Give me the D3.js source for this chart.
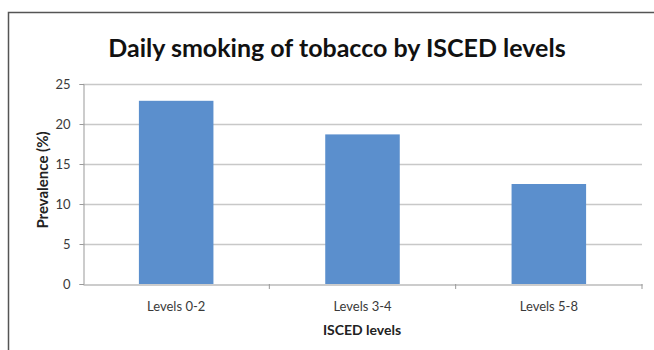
<!DOCTYPE html>
<html>
<head>
<meta charset="utf-8">
<script src="https://cdn.jsdelivr.net/npm/d3@7"></script>
<style>
  body { margin: 0; background: #fff; }
  text { font-family: Lato, "Open Sans", sans-serif; }
</style>
</head>
<body>
<div id="chart"></div>
<script>
// Data
const categories = ["Levels 0-2", "Levels 3-4", "Levels 5-8"];
const prevalence = [22.9, 18.7, 12.5];
const yTicks = [0, 5, 10, 15, 20, 25];

const W = 654, H = 350;
const plot = { left: 83, right: 642, top: 84, bottom: 284 };

const svg = d3.select("#chart")
    .append("svg")
    .attr("width", W)
    .attr("height", H);

svg.append("rect")
    .attr("width", W).attr("height", H)
    .attr("fill", "#fff");

// Outer frame
svg.append("rect")
    .attr("x", 8.5).attr("y", 12.5)
    .attr("width", W + 10).attr("height", H)
    .attr("fill", "none")
    .attr("stroke", "#555")
    .attr("stroke-width", 1.5);

// bars sit in the middle 40% of each category
const x = d3.scaleBand()
    .domain(categories)
    .range([plot.left, plot.right])
    .paddingInner(0.6)
    .paddingOuter(0.3);

const xBound = d3.scaleBand()
    .domain(categories)
    .range([plot.left, plot.right]);

const y = d3.scaleLinear()
    .domain([0, 25])
    .range([plot.bottom, plot.top]);

// Gridlines
svg.append("g")
    .selectAll("line")
    .data(yTicks.filter(d => d > 0))
    .enter()
    .append("line")
    .attr("x1", plot.left).attr("x2", plot.right)
    .attr("y1", d => Math.round(y(d)) + 0.5)
    .attr("y2", d => Math.round(y(d)) + 0.5)
    .attr("stroke", "#c8c8c8")
    .attr("stroke-width", 1.5);

// Bars
svg.append("g")
    .selectAll("rect")
    .data(prevalence)
    .enter()
    .append("rect")
    .attr("x", (d, i) => x(categories[i]))
    .attr("y", d => y(d))
    .attr("width", x.bandwidth())
    .attr("height", d => plot.bottom - y(d))
    .attr("fill", "#5b8fcd");

// Y axis
const yAxis = svg.append("g")
    .attr("transform", `translate(${plot.left + 0.5},0)`)
    .call(d3.axisLeft(y).tickValues(yTicks).tickSize(4).tickPadding(9));
yAxis.select(".domain").attr("stroke", "#999");
yAxis.selectAll(".tick line").attr("stroke", "#999");
yAxis.selectAll(".tick text")
    .attr("fill", "#3a3a3a")
    .style("font-size", "13px");

// X axis
const xAxis = svg.append("g")
    .attr("transform", `translate(0,${plot.bottom + 0.5})`)
    .call(d3.axisBottom(xBound).tickSize(0).tickPadding(17));
xAxis.select(".domain").attr("stroke", "#999");
xAxis.selectAll(".tick text")
    .attr("fill", "#3a3a3a")
    .style("font-size", "13px");

// category boundary ticks
svg.append("g")
    .selectAll("line")
    .data(categories.map(c => xBound(c) + xBound.bandwidth()))
    .enter()
    .append("line")
    .attr("x1", d => d).attr("x2", d => d)
    .attr("y1", plot.bottom).attr("y2", plot.bottom + 5)
    .attr("stroke", "#999");

// Title
svg.append("text")
    .attr("x", 337)
    .attr("y", 57)
    .attr("text-anchor", "middle")
    .style("font-size", "25px")
    .style("font-weight", "bold")
    .attr("fill", "#111")
    .text("Daily smoking of tobacco by ISCED levels");

// Axis titles
svg.append("text")
    .attr("x", 362)
    .attr("y", 335)
    .attr("text-anchor", "middle")
    .style("font-size", "14px")
    .style("font-weight", "bold")
    .attr("fill", "#222")
    .text("ISCED levels");

svg.append("text")
    .attr("transform", "rotate(-90)")
    .attr("x", -180)
    .attr("y", 48)
    .attr("text-anchor", "middle")
    .style("font-size", "15px")
    .style("font-weight", "bold")
    .attr("fill", "#222")
    .text("Prevalence (%)");
</script>
</body>
</html>
